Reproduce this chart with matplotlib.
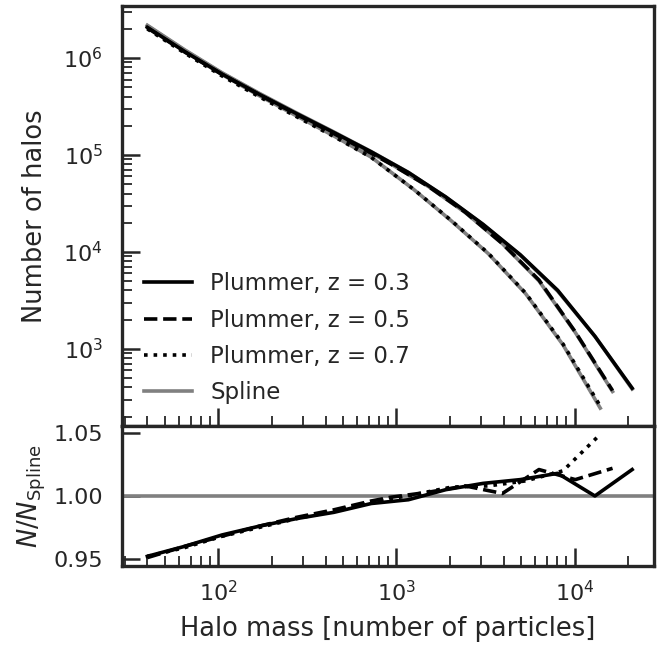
import numpy as np
import matplotlib
matplotlib.use("Agg")
import matplotlib.pyplot as plt

# halo mass bins [number of particles]
mass_z03 = [40, 65, 105, 170, 275, 446, 722, 1167, 1892, 3062, 4955, 8035, 13000, 21040]
mass_z05 = [40, 65, 105, 170, 275, 446, 722, 933, 1514, 2432, 3936, 6310, 10090, 16330]
mass_z07 = [40, 65, 105, 170, 275, 446, 722, 1250, 2028, 3281, 5309, 8610, 13930]

# number of halos (log10), Plummer softening
logn_z03 = [6.316, 6.065, 5.834, 5.625, 5.426, 5.231, 5.032, 4.819, 4.567, 4.285, 3.971, 3.604, 3.13, 2.595]
logn_z05 = [6.31, 6.06, 5.83, 5.62, 5.418, 5.22, 5.018, 4.905, 4.675, 4.41, 4.085, 3.71, 3.175, 2.57]
logn_z07 = [6.30, 6.05, 5.815, 5.60, 5.395, 5.19, 4.975, 4.645, 4.325, 3.985, 3.575, 3.05, 2.41]

# ratio N / N_Spline
ratio_z03 = [0.952, 0.960, 0.969, 0.976, 0.982, 0.987, 0.994, 0.997, 1.005, 1.010, 1.013, 1.018, 1.000, 1.021]
ratio_z05 = [0.951, 0.960, 0.968, 0.976, 0.983, 0.989, 0.996, 0.999, 1.003, 1.008, 1.002, 1.021, 1.013, 1.022]
ratio_z07 = [0.952, 0.959, 0.968, 0.975, 0.982, 0.988, 0.995, 1.001, 1.007, 1.008, 1.012, 1.020, 1.049]

labels = ["Plummer, z = 0.3", "Plummer, z = 0.5", "Plummer, z = 0.7"]
styles = ["-", "--", ":"]

dark = "#262626"
gray = "#808080"
plt.rcParams["font.family"] = ["DejaVu Sans"]
plt.rcParams["text.color"] = dark
plt.rcParams["axes.labelcolor"] = dark
plt.rcParams["xtick.color"] = dark
plt.rcParams["ytick.color"] = dark
plt.rcParams["axes.edgecolor"] = dark

fig = plt.figure(figsize=(6.57, 6.46), dpi=100)
gs = fig.add_gridspec(2, 1, height_ratios=[3, 1], hspace=0,
                      left=0.186, right=0.995, top=0.99, bottom=0.124)
ax1 = fig.add_subplot(gs[0])
ax2 = fig.add_subplot(gs[1], sharex=ax1)

series = [(mass_z03, logn_z03, ratio_z03),
          (mass_z05, logn_z05, ratio_z05),
          (mass_z07, logn_z07, ratio_z07)]

lw = 2.6
for i, (m, ln, r) in enumerate(series):
    m = np.array(m)
    n = 10 ** np.array(ln)
    spline = n / np.array(r)
    ax1.plot(m, spline, color=gray, lw=lw, zorder=2,
             label="Spline" if i == 0 else None)
    ax1.plot(m, n, color="black", ls=styles[i], lw=lw, zorder=3, label=labels[i])
    ax2.plot(m, r, color="black", ls=styles[i], lw=lw, zorder=3)

ax2.axhline(1.0, color=gray, lw=lw, zorder=2)

ax1.set_xscale("log")
ax1.set_yscale("log")
ax1.set_xlim(28.9, 27800)
ax1.set_ylim(160, 3.4e6)
ax2.set_ylim(0.9444, 1.0556)
ax2.set_yticks([0.95, 1.00, 1.05])

for ax in (ax1, ax2):
    for s in ax.spines.values():
        s.set_linewidth(2.4)
    ax.tick_params(which="major", direction="in", length=13, width=1.8,
                   labelsize=16, pad=14, top=False, right=False)
    ax.tick_params(which="minor", direction="in", length=7, width=1.3,
                   top=False, right=False)
ax2.tick_params(axis="x", which="major", pad=10)
ax1.tick_params(axis="x", which="both", labelbottom=False)

ax1.set_ylabel("Number of halos", fontsize=18.5)
ax2.set_ylabel(r"$N/N_{\rm Spline}$", fontsize=18.5)
ax2.set_xlabel("Halo mass [number of particles]", fontsize=18.5, labelpad=8)
ax1.yaxis.set_label_coords(-0.14, 0.5)
ax2.yaxis.set_label_coords(-0.14, 0.5)

handles, labs = ax1.get_legend_handles_labels()
order = [labs.index(l) for l in labels + ["Spline"]]
ax1.legend([handles[k] for k in order], [labs[k] for k in order],
           loc="lower left", frameon=False, fontsize=16.5,
           handlelength=2.1, handletextpad=0.8, labelspacing=0.58,
           borderaxespad=0.55)

fig.savefig("out.png", dpi=100)
